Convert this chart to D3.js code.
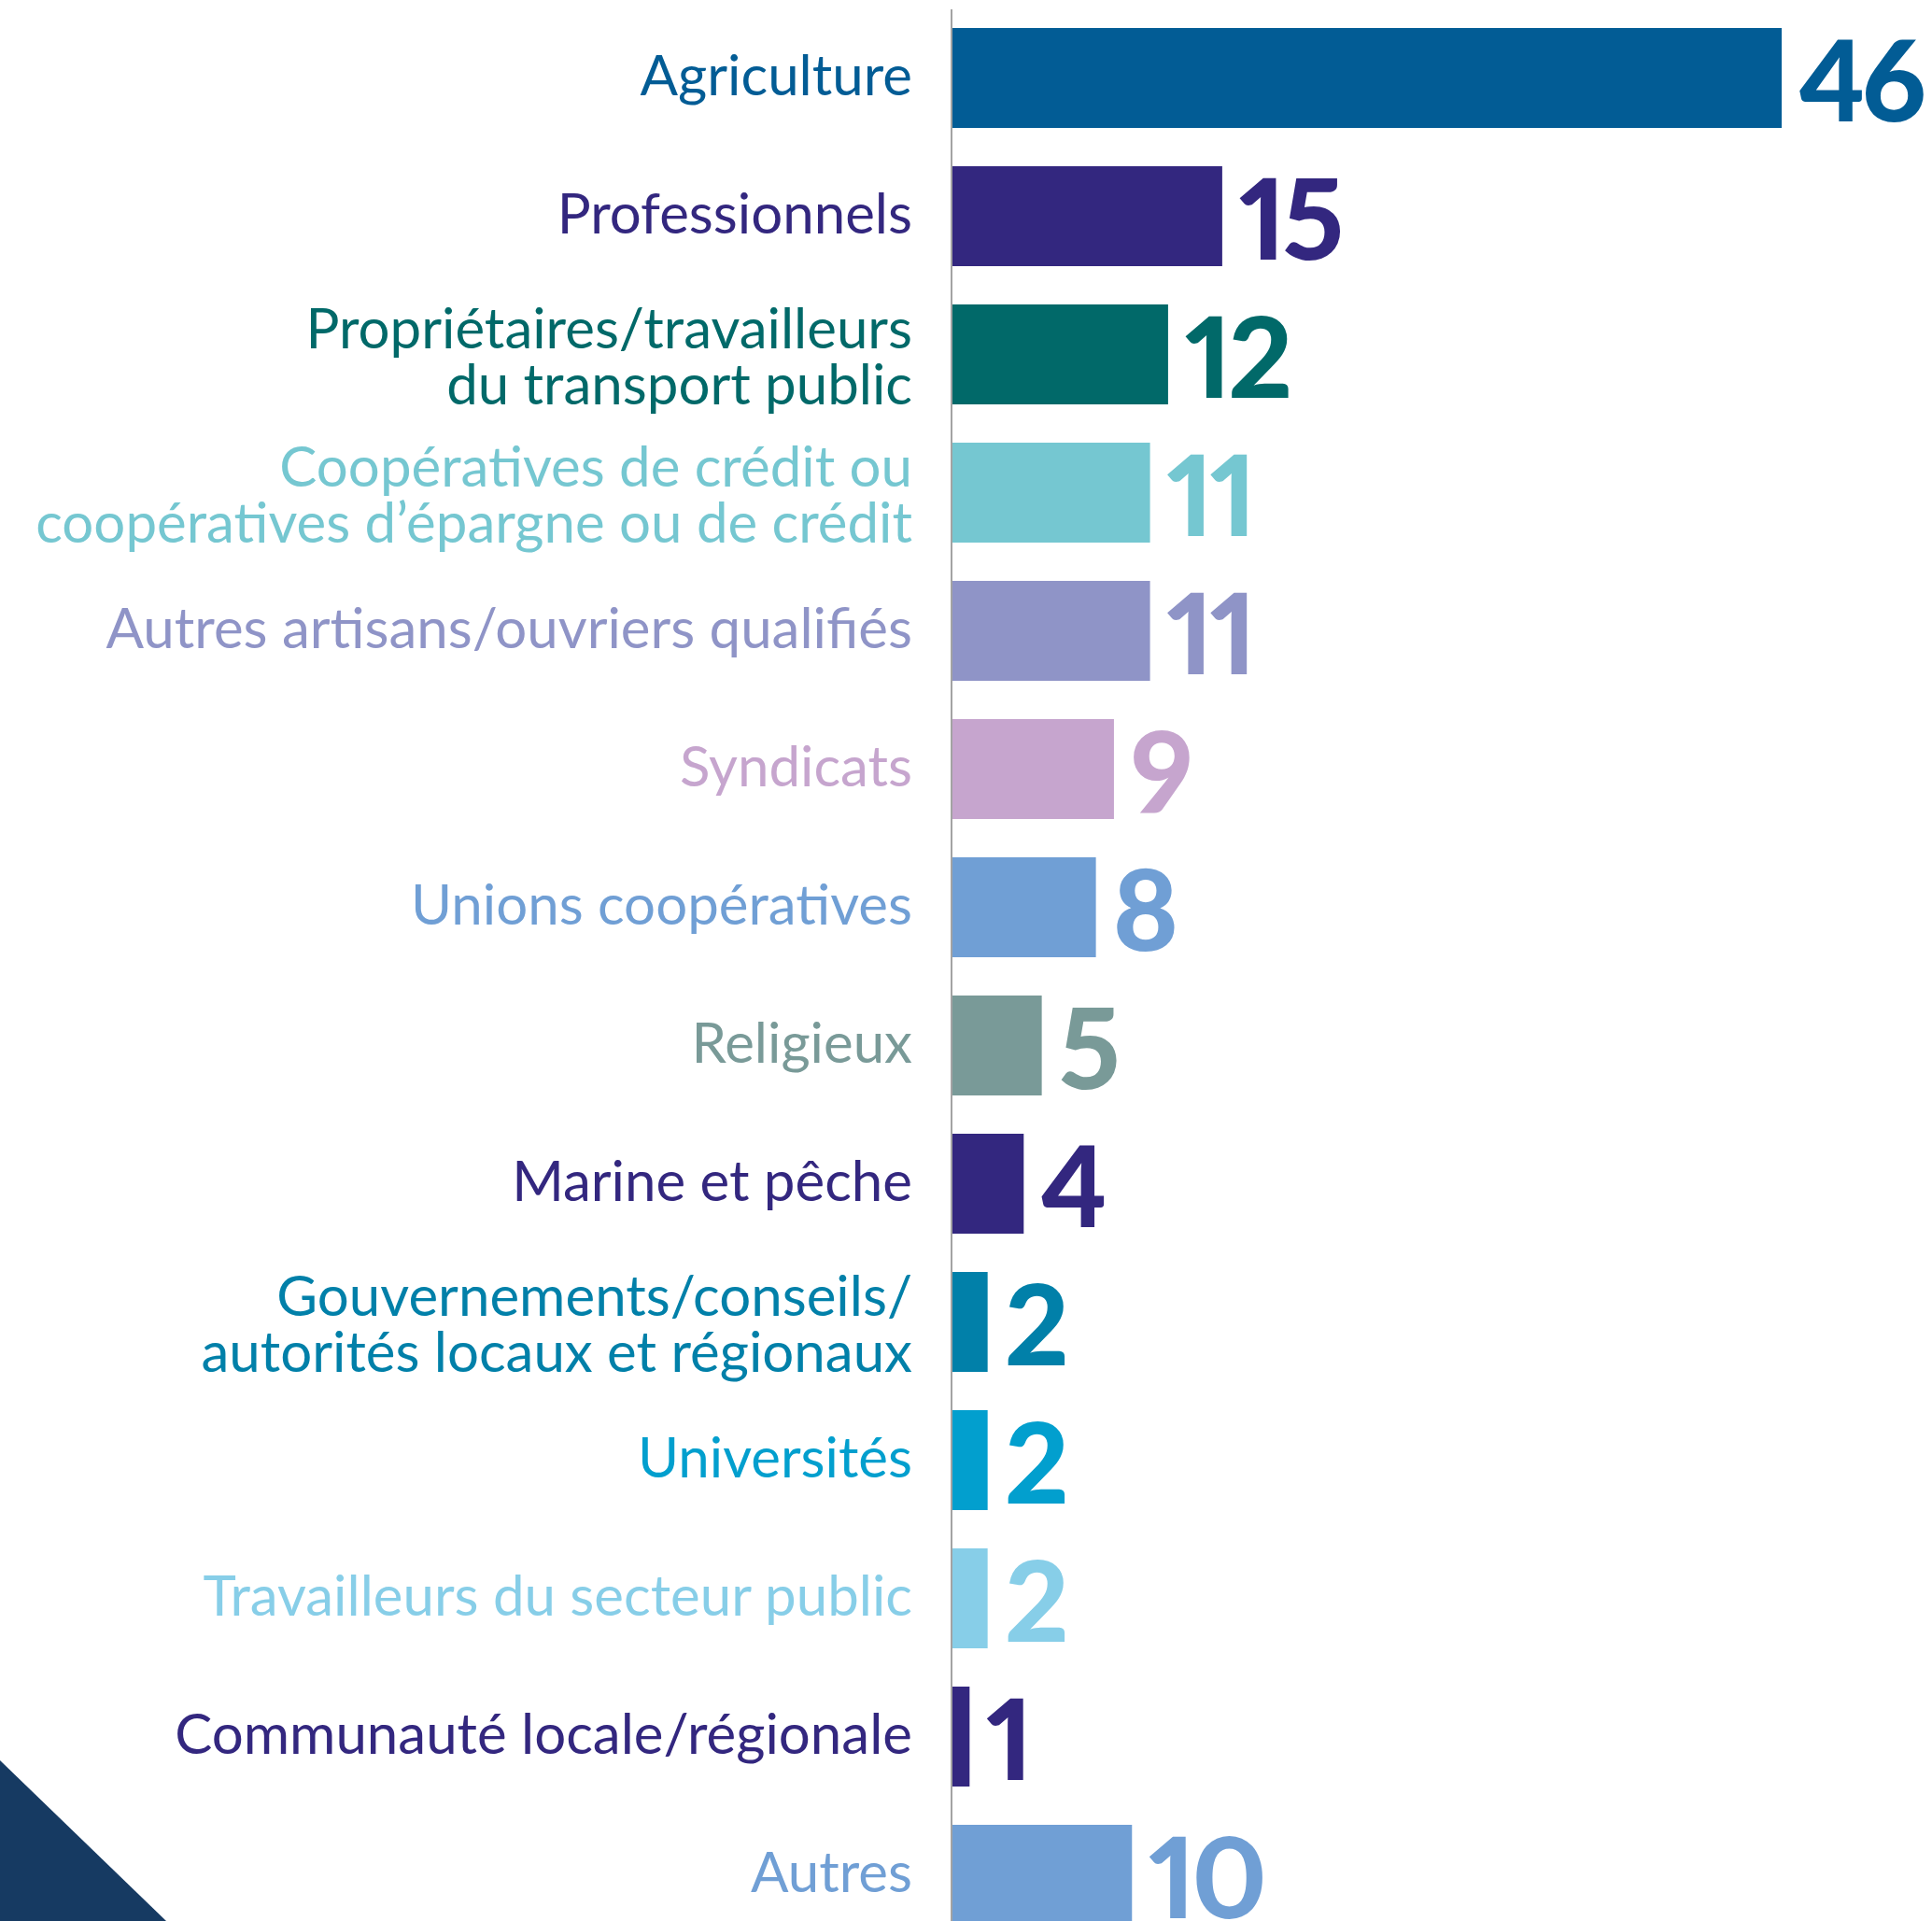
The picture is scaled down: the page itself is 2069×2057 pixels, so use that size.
<!DOCTYPE html>
<html>
<head>
<meta charset="utf-8">
<script src="https://cdn.jsdelivr.net/npm/d3@7"></script>
<style>
  html, body { margin: 0; padding: 0; background: #fff; }
  svg { display: block; }
</style>
</head>
<body>
<div id="chart"></div>
<script>
// données
const categories = [
  ['Agriculture'],
  ['Professionnels'],
  ['Propriétaires/travailleurs', 'du transport public'],
  ['Coopératives de crédit ou', 'coopératives d’épargne ou de crédit'],
  ['Autres artisans/ouvriers qualifiés'],
  ['Syndicats'],
  ['Unions coopératives'],
  ['Religieux'],
  ['Marine et pêche'],
  ['Gouvernements/conseils/', 'autorités locaux et régionaux'],
  ['Universités'],
  ['Travailleurs du secteur public'],
  ['Communauté locale/régionale'],
  ['Autres']
];
const values = [46, 15, 12, 11, 11, 9, 8, 5, 4, 2, 2, 2, 1, 10];
const colors = ['#025c95', '#33277f', '#016969', '#75c7d1', '#8f94c7', '#c6a5ce', '#709fd5',
                '#799a98', '#33277f', '#0180a9', '#029fce', '#87cee8', '#33277f', '#709fd5'];

const width = 2069, height = 2057;
const axisX = 1019;

const rows = categories.map((lines, i) => ({ key: lines.join(' '), lines, value: values[i], color: colors[i] }));

const svg = d3.select('#chart').append('svg')
  .attr('width', width)
  .attr('height', height);

// triangle décoratif en bas à gauche
svg.append('path')
  .attr('d', `M0,1885 L178,${height} L0,${height} Z`)
  .attr('fill', '#163a62');

const x = d3.scaleLinear().domain([0, 46]).range([axisX, axisX + 889]);
const pad = 41 / 148;
const y = d3.scaleBand()
  .domain(rows.map(d => d.key))
  .range([30, 30 + 148 * (rows.length - pad)])
  .paddingInner(pad)
  .paddingOuter(0);

// barres
svg.append('g').selectAll('rect')
  .data(rows)
  .join('rect')
  .attr('x', x(0))
  .attr('y', d => y(d.key))
  .attr('width', d => x(d.value) - x(0))
  .attr('height', y.bandwidth())
  .attr('fill', d => d.color);

// ligne d'axe
svg.append('line')
  .attr('x1', axisX).attr('x2', axisX)
  .attr('y1', 10).attr('y2', height)
  .attr('stroke', '#a3a3a3')
  .attr('stroke-width', 2);

// valeurs
svg.append('g').selectAll('text')
  .data(rows)
  .join('text')
  .attr('x', d => x(d.value) + 18)
  .attr('y', d => y(d.key) + y.bandwidth() / 2 + 46)
  .attr('fill', d => d.color)
  .style('font-family', 'Lato, sans-serif')
  .style('font-weight', 900)
  .style('font-size', '120px')
  .style('font-variant-numeric', 'proportional-nums')
  .style('letter-spacing', '-4px')
  .text(d => d.value);

// libellés
const labels = svg.append('g').selectAll('text')
  .data(rows)
  .join('text')
  .attr('text-anchor', 'end')
  .attr('fill', d => d.color)
  .style('font-family', 'Lato, sans-serif')
  .style('font-size', '60px');

labels.each(function(d) {
  const cy = y(d.key) + y.bandwidth() / 2;
  const t = d3.select(this);
  if (d.lines.length === 1) {
    t.append('tspan').attr('x', 977).attr('y', cy + 18).text(d.lines[0]);
  } else {
    d.lines.forEach((l, j) => {
      t.append('tspan').attr('x', 977).attr('y', cy - 7 + j * 60).text(l);
    });
  }
});
</script>
</body>
</html>
